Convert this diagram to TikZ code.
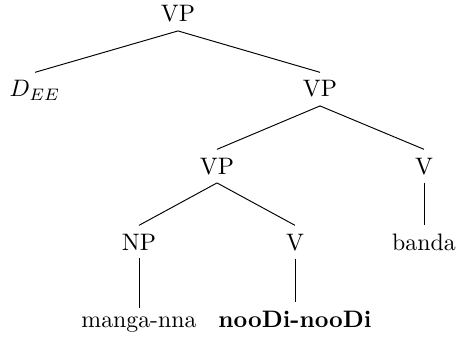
\documentclass[tikz,border=0pt]{standalone}
\begin{document}
\begin{tikzpicture}[x=0.42pt,y=-0.42pt,
  lbl/.style={anchor=base, inner sep=3.33pt},
  edge/.style={draw, line width=0.4pt}]
\useasboundingbox (0,0) rectangle (457,337);
\node[lbl] (top) at (178,22) {VP};
\node[lbl] (dee) at (35,97) {$D_{EE}$};
\node[lbl] (vp2) at (320,97) {VP};
\node[lbl] (vp3) at (217,174) {VP};
\node[lbl] (v1) at (424,174) {V};
\node[lbl] (np) at (139,250) {NP};
\node[lbl] (v2) at (295,250) {V};
\node[lbl] (banda) at (424,250) {banda};
\node[lbl] (manga) at (139,327) {manga-nna};
\node[lbl] (nood) at (295,327) {\textbf{nooDi-nooDi}};
\path[edge] (top.south) -- (dee.north);
\path[edge] (top.south) -- (vp2.north);
\path[edge] (vp2.south) -- (vp3.north);
\path[edge] (vp2.south) -- (v1.north);
\path[edge] (vp3.south) -- (np.north);
\path[edge] (vp3.south) -- (v2.north);
\path[edge] (v1.south) -- (banda.north);
\path[edge] (np.south) -- (manga.north);
\path[edge] (v2.south) -- (nood.north);
\end{tikzpicture}
\end{document}
